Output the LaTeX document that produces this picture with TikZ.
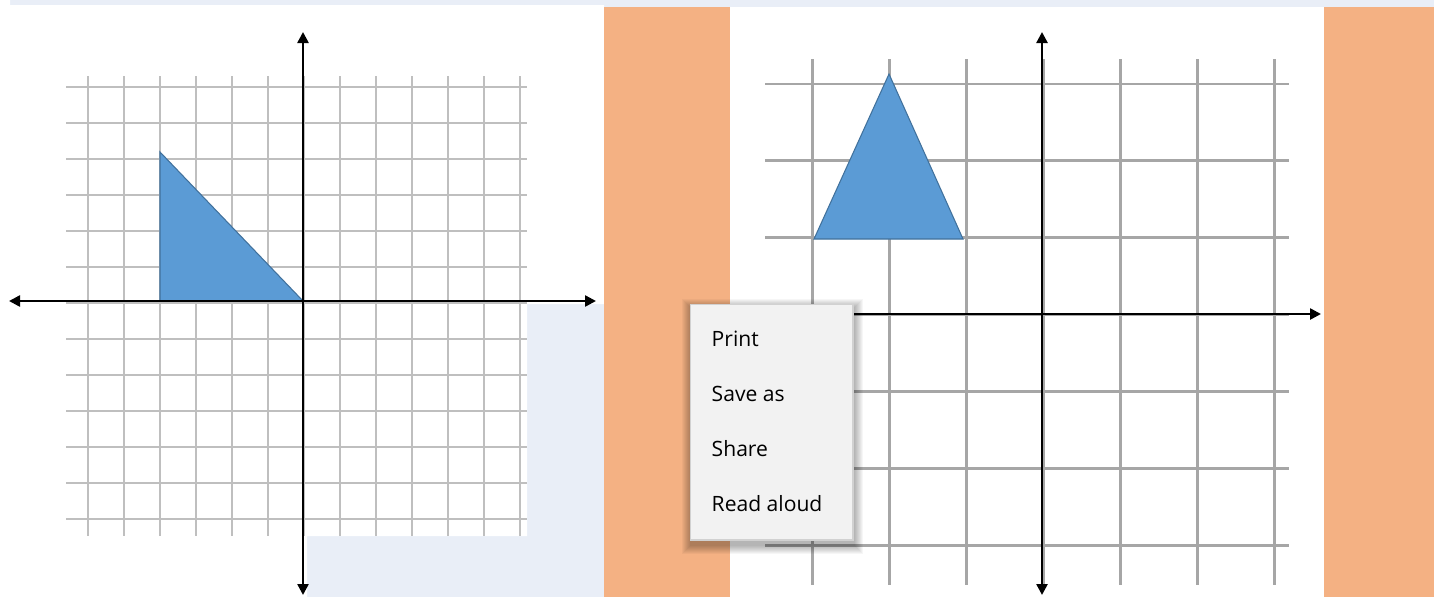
\documentclass[tikz,border=0pt]{standalone}
\usepackage{fontspec}
\newfontfamily\menufont{Open Sans}
\usetikzlibrary{arrows.meta}
\definecolor{paleblue}{HTML}{E9EEF7}
\definecolor{peach}{HTML}{F4B183}
\definecolor{shapeblue}{HTML}{5B9BD5}
\definecolor{shapeedge}{HTML}{41719C}
\definecolor{menugray}{HTML}{F2F2F2}
\tikzset{
  thingrid/.style={draw=black!25, line width=0.55pt},
  thickgrid/.style={draw=black!35, line width=0.85pt},
  axisline/.style={line width=0.7pt},
  tip/.tip={Triangle[length=1.1mm,width=1.1mm]},
  bluetri/.style={fill=shapeblue, draw=shapeedge, line width=0.3pt},
  menubox/.style={fill=menugray, draw=black!18, line width=0.4pt, inner sep=0pt},
  menushade/.style={fill=black, opacity=0.035},
  menuitem/.style={anchor=base west, inner sep=0pt, font=\menufont\fontsize{6}{7}\selectfont}
}
\begin{document}
\begin{tikzpicture}[x=0.01cm,y=-0.01cm]
\useasboundingbox (0,0) rectangle (1434,597);
\fill[paleblue] (0,0) rectangle (1434,597);
\fill[white] (0,0) -- (10,0) -- (10,5) -- (604,5) -- (604,304) -- (527,304) -- (527,536) -- (307,536) -- (307,597) -- (0,597) -- cycle;
\fill[peach] (604,7) rectangle (730,597);
\fill[white] (730,7) rectangle (1324,597);
\fill[peach] (1324,7) rectangle (1434,597);

\foreach \i in {0,...,12}
  \draw[thingrid] ({88.2+35.98*\i},76) -- ({88.2+35.98*\i},536);
\foreach \j in {0,...,12}
  \draw[thingrid] (66,{87.3+35.95*\j}) -- (527,{87.3+35.95*\j});
\filldraw[bluetri] (160,152) -- (160,301) -- (303,301) -- cycle;
\draw[axisline, tip-tip] (9,301) -- (596,301);
\draw[axisline, tip-tip] (303,32) -- (303,595);

\foreach \i in {0,...,6}
  \draw[thickgrid] ({812.8+76.95*\i},59) -- ({812.8+76.95*\i},585);
\foreach \j in {0,...,6}
  \draw[thickgrid] (765,{84+76.95*\j}) -- (1289,{84+76.95*\j});
\filldraw[bluetri] (889,74) -- (814,239) -- (963,239) -- cycle;
\draw[axisline, -tip] (765,314) -- (1321,314);
\draw[axisline, tip-tip] (1042,32) -- (1042,595);

\foreach \k in {1,...,9}
  \fill[menushade] ({691-\k},{308-\k}) rectangle ({854+\k},{545+\k});
\node[menubox, anchor=north west, minimum width=1.62cm, minimum height=2.35cm] (menu) at (690,304) {};
\node[menuitem] (print) at (711,346.7) {Print};
\node[menuitem] (saveas) at (711,401.7) {Save as};
\node[menuitem] (share) at (711,456.7) {Share};
\node[menuitem] (readaloud) at (711,511.7) {Read aloud};
\end{tikzpicture}
\end{document}
